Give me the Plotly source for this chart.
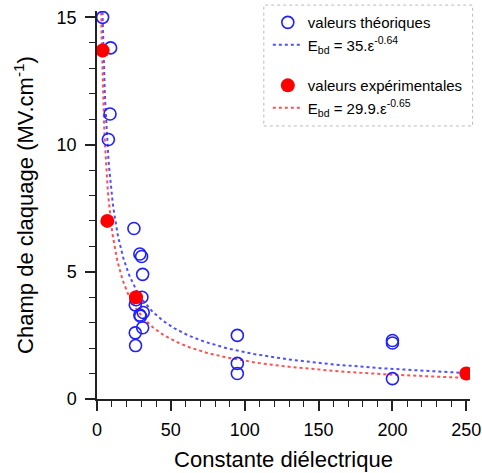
import numpy as np
import plotly.graph_objects as go

# Data
theo_eps = [3.8, 9.2, 8.8, 7.7, 25.0, 29.0, 30.2, 30.9, 30.4, 26.4, 25.9, 29.0, 31.3, 29.5, 30.9, 25.9, 26.1, 95.0, 95.0, 95.0, 200.0, 200.0, 200.0]
theo_E = [15.0, 13.8, 11.2, 10.2, 6.7, 5.7, 5.6, 4.9, 4.0, 3.9, 3.7, 3.3, 3.4, 3.25, 2.8, 2.6, 2.1, 2.5, 1.4, 1.0, 2.3, 2.2, 0.8]

exp_eps = [3.8, 7.0, 26.4, 250.0]
exp_E = [13.7, 7.0, 4.0, 1.0]

# Fit parameters (from legend)
fit_theo = (35.0, -0.64)
fit_exp = (29.9, -0.65)

xfit = np.linspace(1.5, 250, 600)

FONT = "Liberation Sans, Arial, sans-serif"
BLUE = "#1f1fff"
RED = "#ff0000"

fig = go.Figure()
fig.add_trace(go.Scatter(
    x=xfit, y=fit_theo[0] * xfit ** fit_theo[1], mode="lines",
    name="E<sub>bd</sub> = 35.ε<sup>-0.64</sup>", legendgroup="theo", legendrank=2,
    line=dict(color="#5050ff", width=2, dash="dot"),
))
fig.add_trace(go.Scatter(
    x=xfit, y=fit_exp[0] * xfit ** fit_exp[1], mode="lines",
    name="E<sub>bd</sub> = 29.9.ε<sup>-0.65</sup>", legendgroup="exp", legendrank=4,
    line=dict(color="#ff5050", width=2, dash="dot"),
))
fig.add_trace(go.Scatter(
    x=theo_eps, y=theo_E, mode="markers", name="valeurs théoriques",
    legendgroup="theo", legendrank=1,
    marker=dict(symbol="circle-open", size=12, color=BLUE, line=dict(width=1.6, color=BLUE)),
))
fig.add_trace(go.Scatter(
    x=exp_eps, y=exp_E, mode="markers", name="valeurs expérimentales",
    legendgroup="exp", legendrank=3,
    marker=dict(symbol="circle", size=14, color=RED),
))

L, R, T, B = 97, 11.6, 10.9, 73.7
W, H = 482, 473
pw = W - L - R
ph = H - T - B

def px2paper_x(px):
    return (px - L) / pw

def px2paper_y(py):
    return (H - B - py) / ph

fig.update_layout(
    width=W, height=H,
    margin=dict(l=L, r=R, t=T, b=B, autoexpand=False),
    paper_bgcolor="white", plot_bgcolor="white",
    font=dict(family=FONT, color="black"),
    showlegend=True,
    legend=dict(
        x=px2paper_x(268), y=px2paper_y(6), xanchor="left", yanchor="top",
        bgcolor="rgba(255,255,255,0)", borderwidth=0,
        font=dict(size=15, family=FONT),
        traceorder="grouped", tracegroupgap=18,
        itemwidth=30,
    ),
    xaxis=dict(
        range=[0, 252.5], showgrid=False, zeroline=False,
        showline=True, linecolor="#222", linewidth=1.5,
        ticks="outside", ticklen=10, tickwidth=1.5, tickcolor="#222",
        tickmode="array", tickvals=[0, 50, 100, 150, 200, 250],
        tickfont=dict(size=18, family=FONT), ticklabelstandoff=4,
        minor=dict(ticks="outside", ticklen=6, tickwidth=1.2, tickcolor="#222", dtick=10, showgrid=False),
        title=dict(text="Constante diélectrique", font=dict(size=22, family=FONT), standoff=12),
    ),
    yaxis=dict(
        range=[0, 15.25], showgrid=False, zeroline=False,
        showline=True, linecolor="#222", linewidth=1.5,
        ticks="outside", ticklen=10, tickwidth=1.5, tickcolor="#222",
        tickmode="array", tickvals=[0, 5, 10, 15],
        tickfont=dict(size=18, family=FONT), ticklabelstandoff=5,
        minor=dict(ticks="outside", ticklen=6, tickwidth=1.2, tickcolor="#222", dtick=1, showgrid=False),
        title=dict(text="Champ de claquage (MV.cm<sup>-1</sup>)", font=dict(size=22, family=FONT), standoff=17),
    ),
    shapes=[dict(
        type="rect", xref="paper", yref="paper",
        x0=px2paper_x(264), x1=px2paper_x(473), y0=px2paper_y(126), y1=px2paper_y(5),
        line=dict(color="#bbbbbb", width=1, dash="dot"), fillcolor="rgba(0,0,0,0)", layer="below",
    )],
)

fig.write_html("out.html", config={"displayModeBar": False},
               post_script="document.body.style.margin='0';document.body.style.padding='0';")
